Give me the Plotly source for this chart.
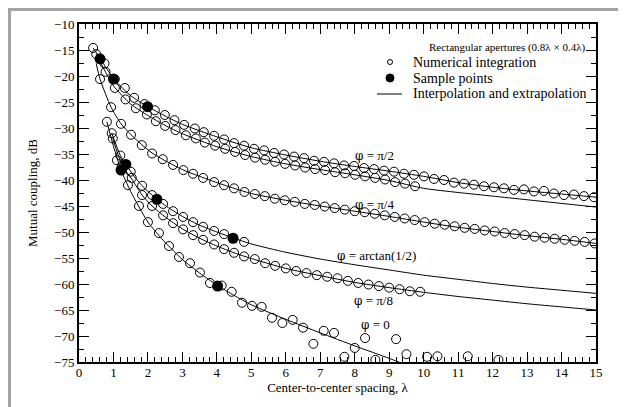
import plotly.graph_objects as go

# ---------------- data ----------------
# numerical-integration points (open circles)
pi2_x = [0.41, 0.74, 1.04, 1.33, 1.60, 1.90, 2.20, 2.49, 2.77, 3.05, 3.36, 3.62, 3.92, 4.21, 4.50, 4.79,
         5.08, 5.37, 5.66, 5.95, 6.24, 6.53, 6.82, 7.11, 7.40, 7.69, 7.98, 8.27, 8.56, 8.85, 9.14, 9.43,
         9.72, 10.01, 10.30, 10.59, 10.88, 11.17, 11.46, 11.75, 12.04, 12.33, 12.62, 12.91, 13.20, 13.49,
         13.78, 14.07, 14.36, 14.65, 14.94]
pi2_y = [-14.6, -17.6, -20.6, -22.3, -24.2, -25.4, -26.6, -27.5, -28.5, -29.4, -30.1, -30.8, -31.5, -32.2, -32.9, -33.4,
         -34.0, -34.3, -34.8, -35.1, -35.5, -35.8, -36.3, -36.5, -36.8, -37.2, -37.3, -37.7, -37.9, -38.2, -38.4, -38.8,
         -39.0, -39.3, -39.8, -40.0, -40.5, -40.7, -40.9, -41.2, -41.4, -41.6, -41.9, -41.8, -42.2, -42.1,
         -42.6, -42.9, -42.8, -43.1, -43.3]

mid_x = [0.50, 0.77, 1.04, 1.35, 1.65, 1.97, 2.23, 2.50, 2.80, 3.10, 3.39, 3.65, 3.95, 4.24, 4.53, 4.82, 5.11,
         5.40, 5.69, 5.98, 6.27, 6.56, 6.85, 7.14, 7.43, 7.72, 8.01, 8.30, 8.59, 8.88, 9.17, 9.46, 9.75]
mid_y = [-15.8, -19.2, -22.3, -24.5, -26.2, -27.4, -28.7, -29.6, -30.4, -31.4, -32.0, -32.8, -33.4, -34.0, -34.6, -35.2, -35.7,
         -36.1, -36.5, -36.9, -37.2, -37.6, -37.9, -38.1, -38.5, -38.7, -39.0, -39.3, -39.6, -39.9, -40.4, -40.7, -41.2]

pi4_x = [0.61, 0.93, 1.22, 1.51, 1.82, 2.12, 2.43, 2.73, 3.03, 3.31, 3.60, 3.92, 4.21, 4.50, 4.80, 5.10, 5.39,
         5.68, 5.97, 6.26, 6.55, 6.84, 7.13, 7.42, 7.71, 8.00, 8.29, 8.58, 8.87, 9.16, 9.45, 9.74, 10.03,
         10.32, 10.61, 10.90, 11.19, 11.48, 11.77, 12.06, 12.35, 12.64, 12.93, 13.22, 13.51, 13.80, 14.09,
         14.38, 14.67, 14.96]
pi4_y = [-20.6, -26.0, -29.2, -31.3, -33.3, -34.9, -36.0, -37.1, -38.1, -38.8, -39.6, -40.4, -41.0, -41.6, -42.3, -42.7, -43.1,
         -43.6, -43.9, -44.2, -44.6, -44.8, -45.1, -45.4, -45.7, -46.0, -46.2, -46.5, -46.8, -47.1, -47.4, -47.7, -48.1,
         -48.4, -48.6, -48.9, -49.2, -49.4, -49.7, -49.9, -50.2, -50.4, -50.6, -50.9, -51.1, -51.3, -51.5,
         -51.7, -51.9, -52.2]

atn_x = [0.95, 1.20, 1.50, 1.83, 2.12, 2.44, 2.73, 3.02, 3.31, 3.60, 3.92, 4.21, 4.79]
atn_y = [-31.0, -35.3, -38.4, -41.1, -42.9, -44.6, -46.0, -47.1, -48.1, -49.0, -49.8, -50.4, -51.9]

pi8_x = [0.98, 1.25, 1.53, 1.83, 2.12, 2.44, 2.73, 3.02, 3.31, 3.60, 3.92, 4.21, 4.50, 4.79, 5.10, 5.40,
         5.69, 6.00, 6.30, 6.60, 6.90, 7.20, 7.50, 7.80, 8.10, 8.40, 8.70, 9.00, 9.30, 9.60, 9.90]
pi8_y = [-32.0, -37.2, -39.6, -42.9, -45.0, -46.8, -48.3, -49.5, -50.6, -51.5, -52.4, -53.3, -54.0, -54.7, -55.2, -56.0,
         -56.5, -57.0, -57.5, -57.9, -58.3, -58.6, -58.9, -59.4, -59.8, -60.1, -60.4, -60.7, -61.0, -61.4, -61.5]

zero_x = [0.81, 1.10, 1.42, 1.74, 2.00, 2.32, 2.61, 2.90, 3.22, 3.51, 3.80, 4.14, 4.43, 4.73, 5.02, 5.30,
          5.60, 5.90, 6.20, 6.50, 6.80, 7.10, 7.40, 7.70, 8.00, 8.30, 8.60, 9.20, 9.50, 10.10, 10.40,
          11.28, 12.17]
zero_y = [-28.8, -36.2, -41.0, -45.0, -48.1, -50.2, -52.7, -54.8, -56.0, -57.8, -59.8, -60.3, -61.5, -63.6, -64.2, -64.4,
          -66.5, -67.5, -66.9, -68.4, -71.5, -69.0, -69.4, -74.0, -72.3, -70.4, -74.6, -70.6, -73.5, -74.0, -73.9,
          -73.9, -74.6]

# sample points (filled circles)
samp_x = [0.61, 1.00, 1.99, 1.22, 1.36, 2.26, 4.47, 4.02]
samp_y = [-16.7, -20.6, -25.9, -38.1, -37.0, -43.7, -51.2, -60.4]

# interpolation / extrapolation curves
l_pi2_x = [0.41, 0.6, 1.0, 1.5, 2.0, 2.5, 3, 4, 5, 6, 7, 8, 9, 10, 11, 12, 13, 14, 15]
l_pi2_y = [-14.6, -16.5, -20.5, -23.8, -25.9, -27.7, -29.3, -31.7, -33.8, -35.2, -36.4, -37.4, -38.3, -39.3, -40.5, -41.4, -42.1, -42.7, -43.3]
l_mid_x = [0.5, 0.75, 1.0, 1.5, 2, 2.5, 3, 4, 5, 6, 7, 8, 9, 10, 11, 12, 13, 14, 15]
l_mid_y = [-15.8, -19.0, -21.9, -25.4, -27.6, -29.5, -31.1, -33.6, -35.5, -36.9, -38.0, -39.0, -40.1, -41.6, -42.4, -43.1, -43.8, -44.5, -45.2]
l_pi4_x = [0.5, 0.61, 0.93, 1.22, 1.51, 1.82, 2.12, 2.5, 3, 3.5, 4, 4.5, 5, 6, 7, 8, 9, 10, 11, 12, 13, 14, 15]
l_pi4_y = [-17.6, -20.6, -26.0, -29.2, -31.3, -33.2, -34.8, -36.3, -38.0, -39.3, -40.5, -41.6, -42.6, -43.9, -45.0, -46.0, -47.0, -48.1, -49.1, -49.9, -50.7, -51.4, -52.2]
l_atn_x = [0.95, 1.2, 1.36, 1.6, 1.83, 2.12, 2.5, 3, 3.5, 4, 4.5, 5, 6, 7, 8, 9, 10, 11, 12, 13, 14, 15]
l_atn_y = [-31.0, -35.3, -37.0, -39.3, -41.1, -42.9, -44.9, -47.0, -48.7, -50.0, -51.2, -52.3, -53.9, -55.2, -56.3, -57.3, -58.3, -59.1, -59.9, -60.6, -61.2, -61.8]
l_pi8_x = [0.98, 1.25, 1.53, 1.83, 2.12, 2.5, 3, 3.5, 4, 4.5, 5, 6, 7, 8, 9, 10, 11, 12, 13, 14, 15]
l_pi8_y = [-32.0, -37.2, -39.8, -42.9, -45.0, -47.1, -49.4, -51.2, -52.7, -54.0, -55.1, -57.0, -58.4, -59.7, -60.7, -61.6, -62.4, -63.1, -63.8, -64.4, -65.0]
l_zero_x = [0.81, 1.0, 1.22, 1.5, 2, 2.5, 3, 3.5, 4, 4.5, 5, 6, 7, 8, 9, 9.5]
l_zero_y = [-28.8, -33.5, -38.1, -42.2, -48.1, -52.0, -55.3, -57.9, -60.2, -62.2, -64.0, -66.8, -69.4, -71.9, -74.3, -75.6]

curve_values = ["π/2", "π/4", "arctan(1/2)", "π/8", "0"]
label_x = [8.58, 8.58, 8.64, 8.53, 8.60]
label_y = [-35.2, -44.8, -54.6, -63.1, -67.7]

legend_title = "Rectangular apertures (0.8λ × 0.4λ)"
legend_items = ["Numerical integration", "Sample points", "Interpolation and extrapolation"]

# ---------------- figure ----------------
FONT = "Liberation Serif, Times New Roman, serif"
PHI = '<span style="font-family:DejaVu Serif;font-size:12px">φ</span>'
OFF = 8          # page body margin
W, H = 626 - OFF, 407 - OFF
fig = go.Figure()

for lx, ly in [(l_pi2_x, l_pi2_y), (l_mid_x, l_mid_y), (l_pi4_x, l_pi4_y),
               (l_atn_x, l_atn_y), (l_pi8_x, l_pi8_y), (l_zero_x, l_zero_y)]:
    fig.add_trace(go.Scatter(x=lx, y=ly, mode="lines", showlegend=False,
                             line=dict(color="black", width=1, shape="spline", smoothing=0.6),
                             hoverinfo="skip"))

for cx, cy in [(pi2_x, pi2_y), (mid_x, mid_y), (pi4_x, pi4_y),
               (atn_x, atn_y), (pi8_x, pi8_y), (zero_x, zero_y)]:
    fig.add_trace(go.Scatter(x=cx, y=cy, mode="markers", showlegend=False,
                             marker=dict(symbol="circle-open", size=9, color="black",
                                         line=dict(width=1, color="black"))))

fig.add_trace(go.Scatter(x=samp_x, y=samp_y, mode="markers", showlegend=False,
                         marker=dict(symbol="circle", size=11, color="black")))

for t, x, y in zip(curve_values, label_x, label_y):
    fig.add_annotation(x=x, y=y, text=PHI + " = " + t, showarrow=False, xref="x", yref="y",
                       font=dict(family=FONT, size=13, color="black"))

# plot area in screen px: x 79..596, y 24..362
L, R, T, B = 79, 596, 24, 362
def px(xp):
    return (xp - L) / (R - L)
def py(yp):
    return (B - yp) / (B - T)

# legend (hand placed)
fig.add_annotation(x=px(587), y=py(47), xref="paper", yref="paper", text=legend_title,
                   showarrow=False, xanchor="right", yanchor="middle",
                   font=dict(family=FONT, size=11, color="black"))
for t, yy in zip(legend_items, [62, 78, 94]):
    fig.add_annotation(x=px(411), y=py(yy), xref="paper", yref="paper", text=t,
                       showarrow=False, xanchor="left", yanchor="middle",
                       font=dict(family=FONT, size=14, color="black"))
fig.add_shape(type="circle", xref="paper", yref="paper", xsizemode="pixel", ysizemode="pixel",
              xanchor=px(390), yanchor=py(62), x0=-2.5, x1=2.5, y0=-2.5, y1=2.5,
              line=dict(color="black", width=1), fillcolor="white")
fig.add_shape(type="circle", xref="paper", yref="paper", xsizemode="pixel", ysizemode="pixel",
              xanchor=px(390), yanchor=py(78), x0=-4, x1=4, y0=-4, y1=4,
              line=dict(color="black", width=1), fillcolor="black")
fig.add_shape(type="line", xref="paper", yref="paper", x0=px(377), x1=px(402), y0=py(94), y1=py(94),
              line=dict(color="black", width=1))

# gray frame (top and left), as close to the page corner as the figure allows
fig.add_shape(type="rect", xref="paper", yref="paper", x0=px(OFF), x1=px(626), y0=py(OFF + 3), y1=py(OFF - 1),
              line=dict(width=0), fillcolor="#a3a3a3", layer="below")
fig.add_shape(type="rect", xref="paper", yref="paper", x0=px(OFF - 1), x1=px(OFF + 3), y0=py(408), y1=py(OFF - 1),
              line=dict(width=0), fillcolor="#a3a3a3", layer="below")

axis_common = dict(showgrid=False, zeroline=False, showline=True, linewidth=2, linecolor="black",
                   mirror="ticks", ticks="inside", ticklen=10, tickwidth=1, tickcolor="black",
                   tickfont=dict(family=FONT, size=13, color="black"))
fig.update_xaxes(range=[0, 15], dtick=1, tick0=0, ticklabelstandoff=-3,
                 minor=dict(ticks="inside", ticklen=5, dtick=0.2, tickwidth=1, tickcolor="black", showgrid=False),
                 title=dict(text="Center-to-center spacing, λ", font=dict(family=FONT, size=13, color="black"), standoff=2),
                 **axis_common)
fig.update_yaxes(range=[-75, -10], dtick=5, tick0=-10,
                 minor=dict(ticks="inside", ticklen=5, dtick=2.5, tickwidth=1, tickcolor="black", showgrid=False),
                 title=dict(text="Mutual coupling, dB", font=dict(family=FONT, size=13, color="black"), standoff=14),
                 **axis_common)

fig.update_layout(width=W, height=H,
                  margin=dict(l=L - OFF, r=(W + OFF) - R, t=T - OFF, b=(H + OFF) - B, autoexpand=False),
                  plot_bgcolor="white", paper_bgcolor="white", showlegend=False)

fig.write_html("out.html")
